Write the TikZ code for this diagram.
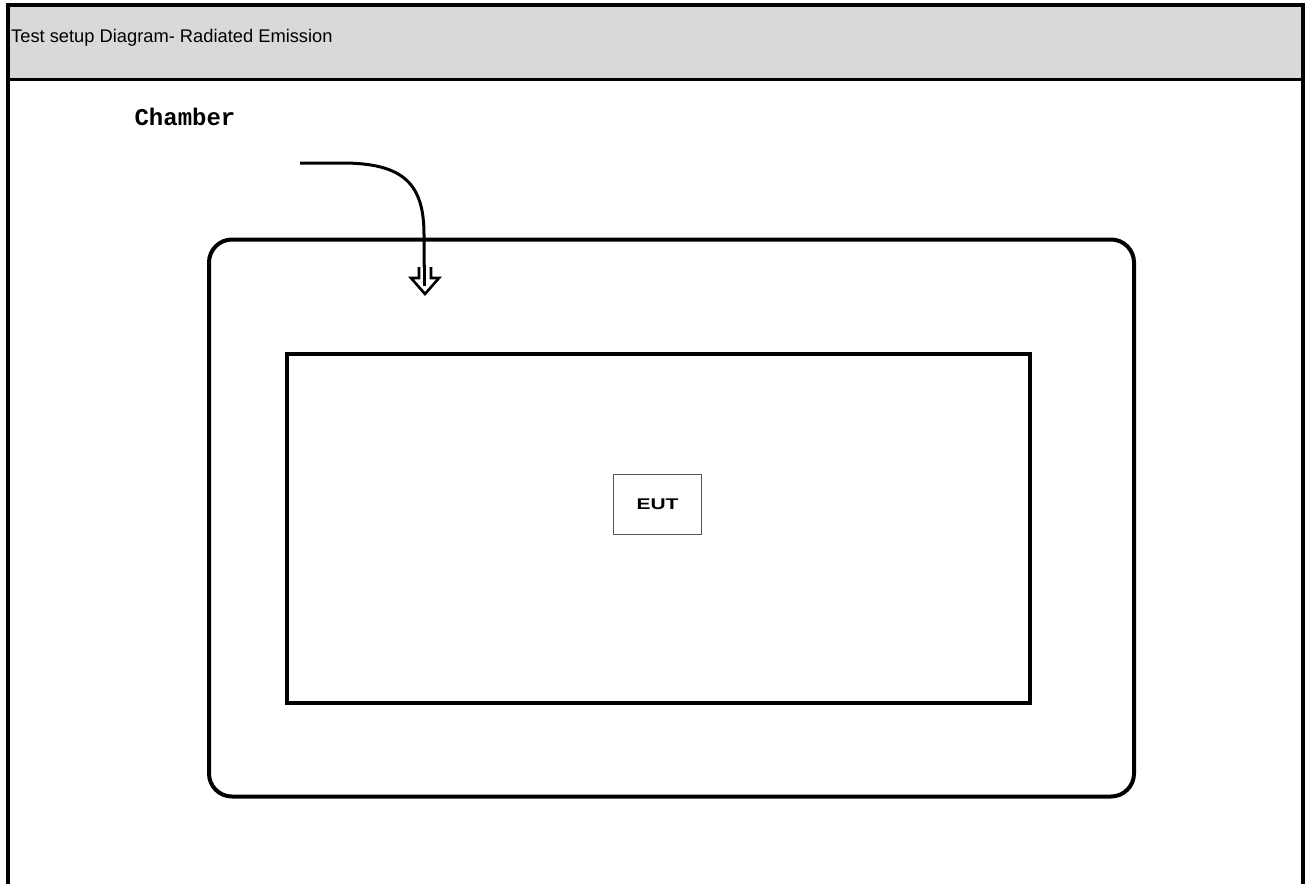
\documentclass[tikz,border=0pt]{standalone}
\usepackage{fontspec}
\setmainfont{Liberation Sans}
\newfontfamily\monob{Liberation Mono}
\usetikzlibrary{calc}
\definecolor{headgray}{HTML}{D9D9D9}
\definecolor{eutgray}{HTML}{555555}
\tikzset{
  frameline/.style={line width=4pt, line cap=butt},
  chamberbox/.style={draw, line width=4pt, rounded corners=23pt, inner sep=0pt, outer sep=0pt, minimum width=925pt, minimum height=557pt},
  tablebox/.style={draw, line width=4pt, inner sep=0pt, outer sep=0pt, minimum width=743pt, minimum height=349pt},
  eutbox/.style={draw=eutgray, line width=1.3pt, inner sep=0pt, minimum width=88pt, minimum height=60pt, font=\fontsize{15.5}{15.5}\selectfont\bfseries},
  pointer/.style={line width=3pt},
  hollowhead/.style={line width=2.6pt, line join=miter, fill=white}
}
\begin{document}
\begin{tikzpicture}[x=1pt,y=-1pt]
\useasboundingbox (0,0) rectangle (1308,884);
\fill[headgray] (8,5) rectangle (1302.7,79);
\draw[frameline] (8,884) -- (8,5) -- (1302.7,5) -- (1302.7,884);
\draw[line width=2.5pt] (8,79.5) -- (1302.7,79.5);
\node[anchor=west, inner sep=0pt, font=\fontsize{18.3}{19}\selectfont] (title) at (11,38) {Test setup Diagram- Radiated Emission};
\node[inner sep=0pt, font=\monob\bfseries\fontsize{24}{24}\selectfont] (chamberlabel) at (185,117) {Chamber};
\node[chamberbox] (chamber) at (671.5,518) {};
\node[tablebox] (table) at (658.5,528.5) {};
\node[eutbox] (eut) at (657.5,504.5) {\scalebox{1.35}[1]{EUT}};
\coordinate (pstart) at (300,163);
\coordinate (head) at (425,267);
\draw[pointer] (pstart) -- (342,163) .. controls (405,163) and (424,185) .. (424,235) -- (424,286);
\draw[hollowhead] ($(head)+(-6,0)$) -- ++(0,11) -- ++(-8,0) -- ++(14,16) -- ++(14,-16) -- ++(-8,0) -- ++(0,-11);
\draw[line width=2.5pt] (424.5,265) -- (424.5,286);
\end{tikzpicture}
\end{document}
